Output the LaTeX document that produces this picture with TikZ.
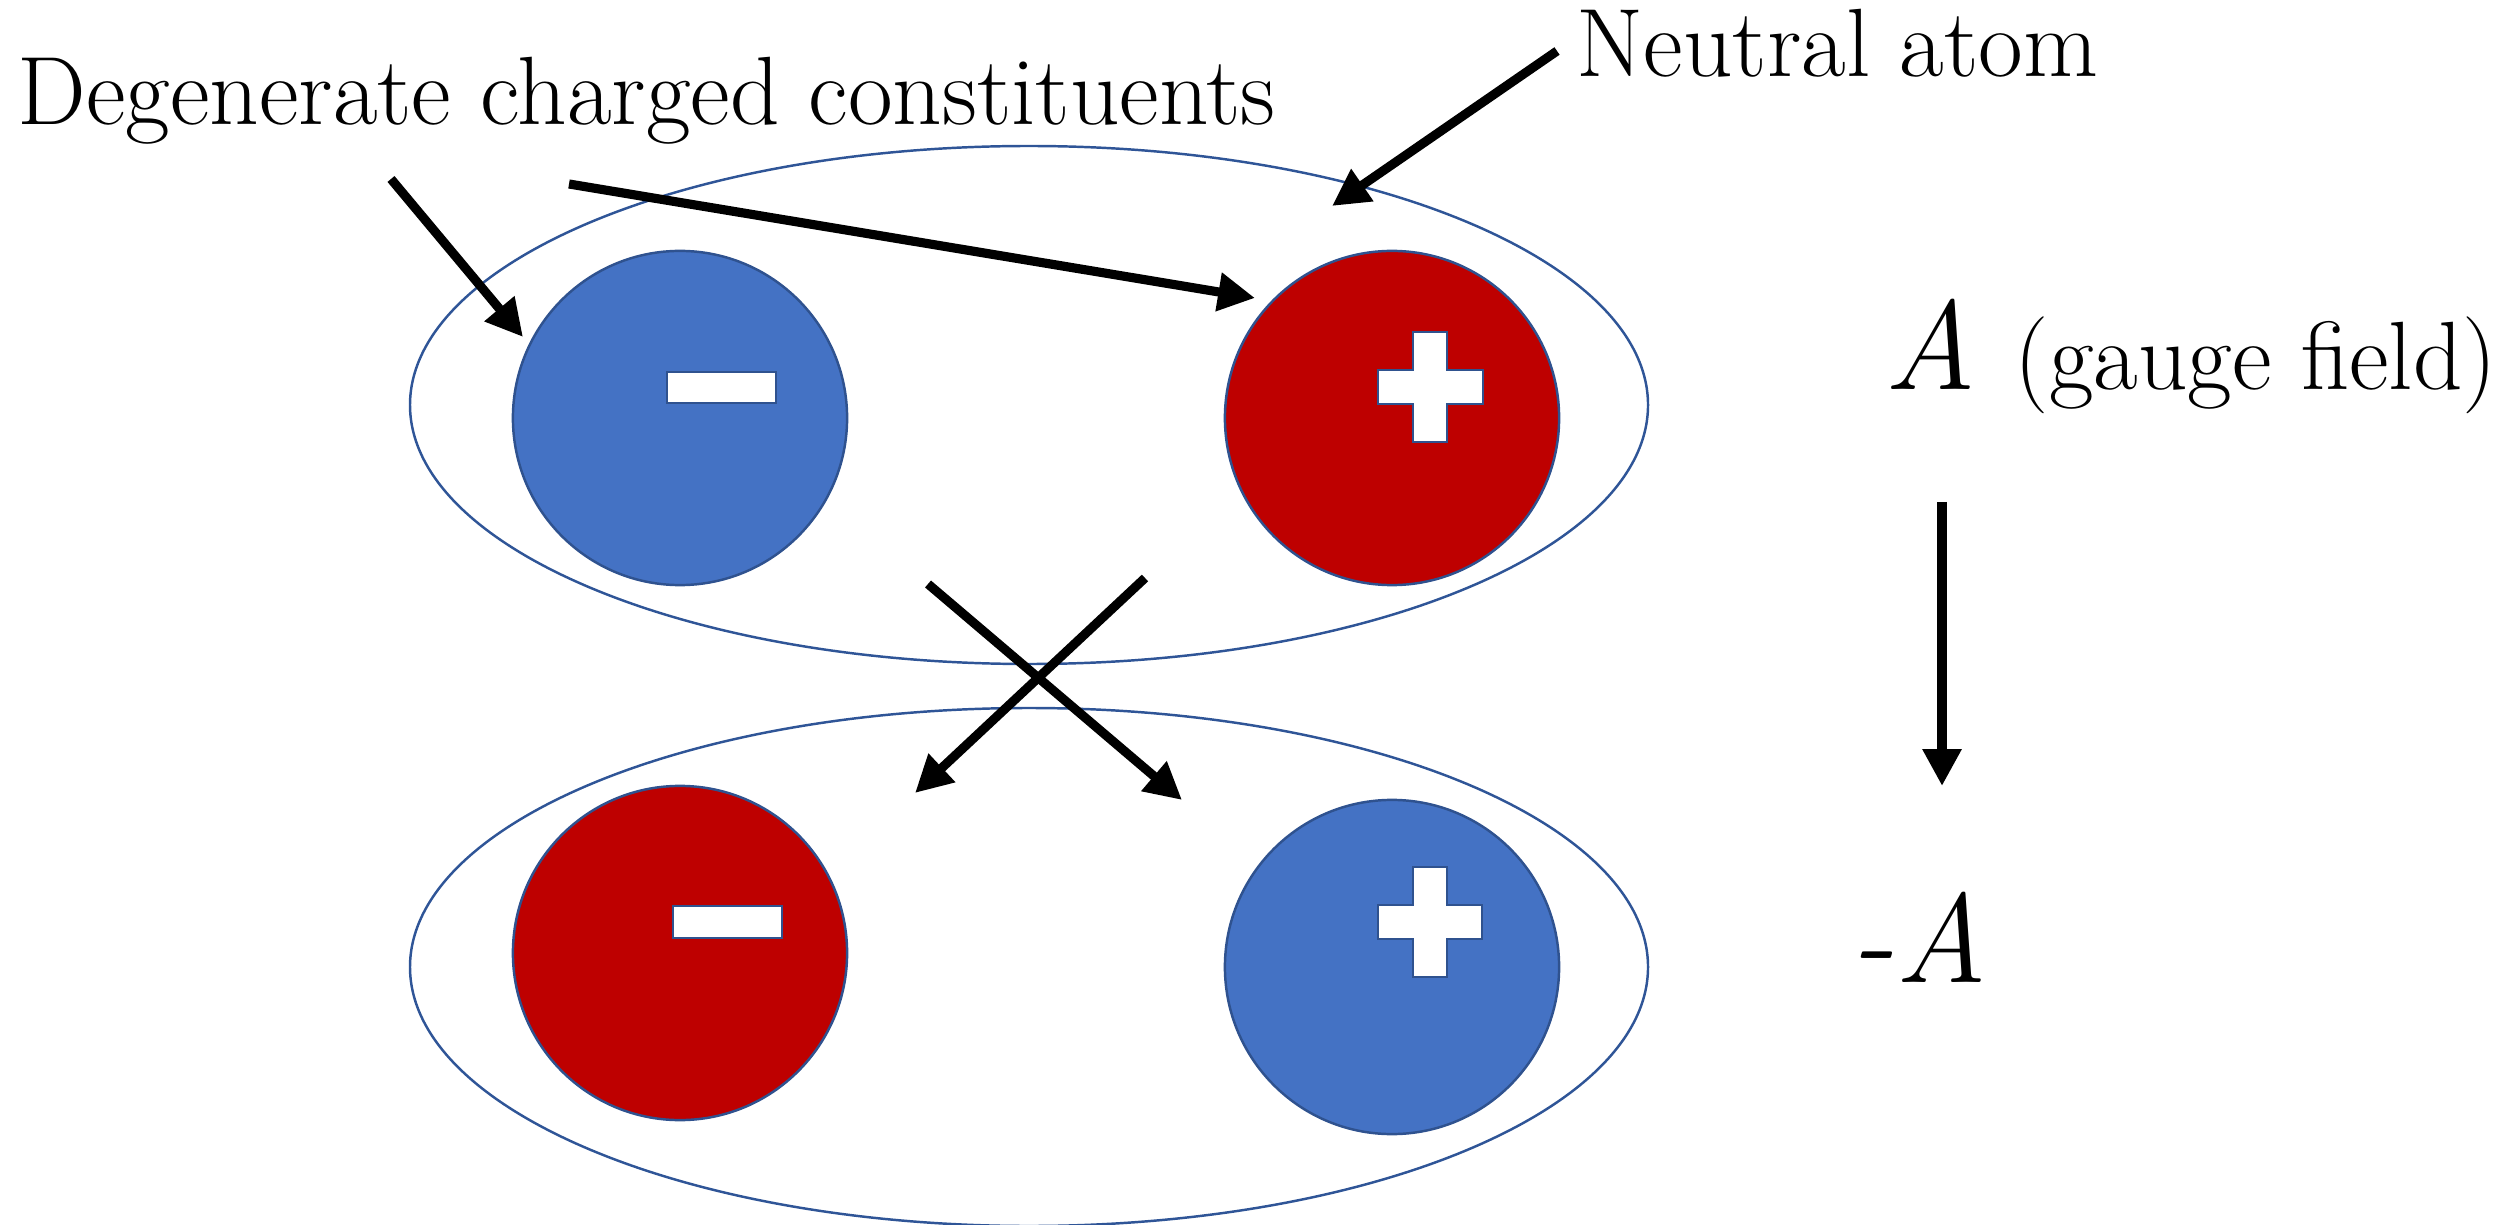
\documentclass[tikz,border=0pt]{standalone}
\usepackage{fontspec}
\usetikzlibrary{arrows.meta}
\definecolor{ringblue}{HTML}{2F5597}
\definecolor{chblue}{HTML}{4472C4}
\definecolor{chred}{HTML}{BE0000}
\definecolor{edgeblue}{HTML}{2F528F}
\begin{document}
\begin{tikzpicture}[x=0.01cm,y=-0.01cm,
  ring/.style={draw=ringblue, line width=0.7pt},
  charge/.style={circle, draw=edgeblue, line width=0.7pt, minimum size=3.34cm, inner sep=0pt},
  signshape/.style={fill=white, draw=edgeblue, line width=0.7pt},
  bigarrow/.style={line width=2.6pt, -{Triangle[length=10.5pt,width=10.5pt]}},
  lbl/.style={font=\fontsize{27.6}{32}\selectfont, inner sep=0pt, anchor=base west},
  sym/.style={font=\fontsize{36}{42}\selectfont\itshape, inner sep=0pt, anchor=base west}]
\useasboundingbox (0,0) rectangle (2504,1225);

% rings (atoms)
\draw[ring] (1029,405) ellipse [x radius=619, y radius=259];
\draw[ring] (1029,967) ellipse [x radius=619, y radius=259];

% charges
\node[charge, fill=chblue] (tminus) at (680,418) {};
\node[charge, fill=chred]  (tplus)  at (1392,418) {};
\node[charge, fill=chred]  (bminus) at (680,953) {};
\node[charge, fill=chblue] (bplus)  at (1392,967) {};

% signs
\draw[signshape] (667,372) rectangle (776,403);
\draw[signshape] (673,906) rectangle (782,938);
\draw[signshape] (1413,332) -- (1447,332) -- (1447,370) -- (1483,370) -- (1483,404) -- (1447,404)
  -- (1447,442) -- (1413,442) -- (1413,404) -- (1378,404) -- (1378,370) -- (1413,370) -- cycle;
\draw[signshape] (1413,867) -- (1447,867) -- (1447,905) -- (1482,905) -- (1482,939) -- (1447,939)
  -- (1447,977) -- (1413,977) -- (1413,939) -- (1378,939) -- (1378,905) -- (1413,905) -- cycle;

% labels
\node[lbl] (deg) at (17,125) {Degenerate charged constituents};
\node[lbl] (neu) at (1576,77) {Neutral atom};
\node[sym] (gA) at (1884,390) {A};
\node[lbl] (gf) at (2014,390) {(gauge field)};
\node[sym] (mA) at (1850,982) {-A};

% arrow end points
\coordinate (d1s) at (391,179);
\coordinate (d1e) at (523,337);
\coordinate (d2s) at (569,184);
\coordinate (d2e) at (1255,298);
\coordinate (n1s) at (1557,51);
\coordinate (n1e) at (1332,206);
\coordinate (x1s) at (928,584);
\coordinate (x1e) at (1182,800);
\coordinate (x2s) at (1145,578);
\coordinate (x2e) at (915,793);
\coordinate (gs) at (1942,502);
\coordinate (ge) at (1942,786);

\draw[bigarrow] (d1s) -- (d1e);
\draw[bigarrow] (d2s) -- (d2e);
\draw[bigarrow] (n1s) -- (n1e);
\draw[bigarrow] (x1s) -- (x1e);
\draw[bigarrow] (x2s) -- (x2e);
\draw[bigarrow] (gs) -- (ge);
\end{tikzpicture}
\end{document}
